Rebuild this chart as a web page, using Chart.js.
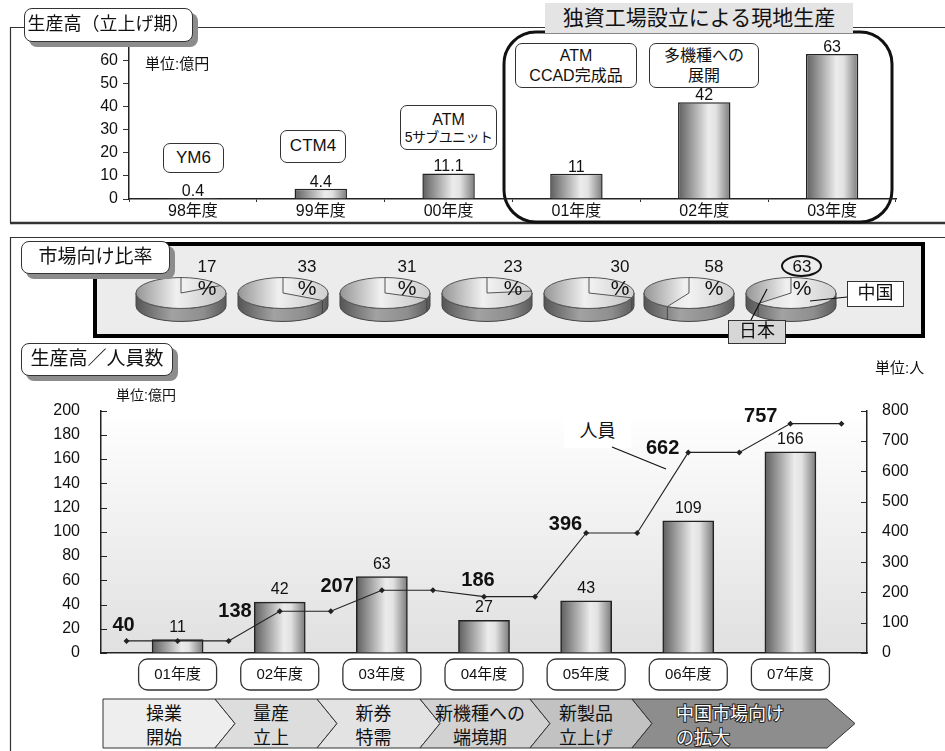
<!DOCTYPE html>
<html>
<head>
<meta charset="utf-8">
<script src="https://cdn.jsdelivr.net/npm/chart.js@4.4.1/dist/chart.umd.min.js"></script>
<style>
body{margin:0;background:#fff;font-family:"Liberation Sans","Noto Sans CJK JP",sans-serif;color:#111;}
#page{position:relative;width:945px;height:751px;overflow:hidden;}
#page svg{position:absolute;}
.box{position:absolute;z-index:1;}
.box canvas{display:block;}
.ov{position:absolute;box-sizing:border-box;z-index:3;text-align:center;white-space:nowrap;}
.tag{background:#fff;border:1.5px solid #333;border-radius:8px;box-shadow:5px 5px 0 #8c8c8c;font-size:19px;}
.note{background:#fff;border:1.5px solid #333;border-radius:7px;display:flex;flex-direction:column;justify-content:center;line-height:1.2;}
.txt{position:absolute;z-index:3;white-space:nowrap;}
</style>
</head>
<body>
<div id="page">
<svg id="bg" width="945" height="751" style="left:0;top:0;z-index:0">
  <path d="M10 27.5 H945 M10.5 27 V223" stroke="#333" stroke-width="1.2" fill="none"/>
  <line x1="10" y1="223" x2="945" y2="223" stroke="#333" stroke-width="2.5"/>
  <rect x="504" y="32" width="388" height="190" rx="32" fill="none" stroke="#111" stroke-width="3"/>
  <path d="M10 237.5 H945 M10.5 237 V751" stroke="#333" stroke-width="1.2" fill="none"/>
  <rect x="95" y="244" width="828" height="92" fill="#ececec" stroke="#000" stroke-width="4"/>
  <g id="chevrons"></g>
</svg>

<div class="box" style="left:0;top:30px;width:945px;height:194px"><canvas id="topChart" width="945" height="194"></canvas></div>
<div class="box" style="left:0;top:380px;width:945px;height:320px"><canvas id="mainChart" width="945" height="320"></canvas></div>

<!-- 立上げ期 -->
<div class="ov tag" style="left:24px;top:8px;width:169px;height:34px;line-height:31px;font-size:18px">生産高（立上げ期）</div>
<div class="ov" style="left:545px;top:3px;width:308px;height:30px;background:#e4e4e4;font-size:21px;line-height:30px">独資工場設立による現地生産</div>
<div class="txt" style="left:145px;top:52px;font-size:15px">単位:億円</div>
<div class="ov note" style="left:163px;top:143px;width:61px;height:30px;font-size:17px">YM6</div>
<div class="ov note" style="left:280px;top:130px;width:66px;height:33px;font-size:17px">CTM4</div>
<div class="ov note" style="left:400px;top:105px;width:97px;height:45px;font-size:14px"><span style="font-size:16px">ATM</span><span style="letter-spacing:-0.6px">5サブユニット</span></div>
<div class="ov note" style="left:515px;top:43px;width:122px;height:45px;font-size:16px"><span>ATM</span><span>CCAD完成品</span></div>
<div class="ov note" style="left:649px;top:43px;width:110px;height:45px;font-size:16px"><span>多機種への</span><span>展開</span></div>

<!-- 市場向け比率 -->
<div class="ov tag" style="left:21px;top:241px;width:149px;height:33px;line-height:30px">市場向け比率</div>
<div class="ov" style="left:781px;top:255px;width:41px;height:22px;border:2.5px solid #111;border-radius:50%"></div>
<div class="ov" style="left:847px;top:281px;width:57px;height:26px;background:#fff;border:1.5px solid #333;font-size:18px;line-height:23px">中国</div>
<div class="ov" style="left:728px;top:320px;width:58px;height:24px;background:#d6d6d6;border:1.5px solid #333;font-size:18px;line-height:21px">日本</div>

<!-- 生産高／人員数 -->
<div class="ov tag" style="left:21px;top:343px;width:152px;height:33px;line-height:30px">生産高／人員数</div>
<div class="txt" style="left:875px;top:356px;font-size:15px">単位:人</div>
<div class="txt" style="left:116px;top:384px;font-size:14px">単位:億円</div>
<div class="ov" style="left:564px;top:415px;width:67px;height:33px;background:#fff;font-size:18px;line-height:33px">人員</div>

<svg width="945" height="751" style="left:0;top:0;z-index:4;pointer-events:none">
  <line x1="810" y1="301" x2="847" y2="297" stroke="#111" stroke-width="1.2"/>
  <line x1="751" y1="320" x2="767" y2="289" stroke="#111" stroke-width="1.2"/>
  <line x1="612" y1="447" x2="666" y2="469" stroke="#111" stroke-width="1.2"/>
</svg>
</div>

<script>
const FONT = '"Liberation Sans","Noto Sans CJK JP",sans-serif';

// 生産高（立上げ期） 億円
const launchYears = ['98年度', '99年度', '00年度', '01年度', '02年度', '03年度'];
const launchOutput = [0.4, 4.4, 11.1, 11, 42, 63];

// 市場向け比率 %
const chinaShare = [17, 33, 31, 23, 30, 58, 63];
const japanShare = [83, 67, 69, 77, 70, 42, 37];

// 生産高（億円）／人員数（人）
const years = ['01年度', '02年度', '03年度', '04年度', '05年度', '06年度', '07年度'];
const output = [11, 42, 63, 27, 43, 109, 166];
const staff = [40, 138, 207, 186, 396, 662, 757];
const staffLine = [40, 40, 40, 138, 138, 207, 207, 186, 186, 396, 396, 662, 662, 757, 757];

const phases = [['操業', '開始'], ['量産', '立上'], ['新券', '特需'], ['新機種への', '端境期'], ['新製品', '立上げ'], ['中国市場向け', 'の拡大']];

// ---------- helpers
function rrect(ctx, x, y, w, h, r) {
  ctx.beginPath();
  ctx.moveTo(x + r, y);
  ctx.arcTo(x + w, y, x + w, y + h, r);
  ctx.arcTo(x + w, y + h, x, y + h, r);
  ctx.arcTo(x, y + h, x, y, r);
  ctx.arcTo(x, y, x + w, y, r);
  ctx.closePath();
}
function barFill(c, pct) {
  const chart = c.chart, xs = chart.scales.x;
  if (!xs || c.dataIndex == null || !chart.chartArea) return '#bbb';
  const cx = xs.getPixelForValue(c.dataIndex);
  const w = xs.width / chart.data.labels.length * pct;
  const g = chart.ctx.createLinearGradient(cx - w / 2, 0, cx + w / 2, 0);
  g.addColorStop(0, '#5e5e5e');
  g.addColorStop(0.58, '#ececec');
  g.addColorStop(0.72, '#e2e2e2');
  g.addColorStop(1, '#7a7a7a');
  return g;
}
const barValues = {
  id: 'barValues',
  afterDatasetsDraw(chart, args, opts) {
    const ctx = chart.ctx, meta = chart.getDatasetMeta(0);
    const data = chart.data.datasets[0].data;
    ctx.save();
    ctx.font = opts.font; ctx.fillStyle = '#111';
    ctx.textAlign = 'center'; ctx.textBaseline = 'alphabetic';
    meta.data.forEach((bar, i) => {
      if (data[i] == null) return;
      ctx.fillText(String(data[i]), bar.x, bar.y - opts.gap);
    });
    ctx.restore();
  }
};

// ---------- top chart
new Chart(document.getElementById('topChart'), {
  type: 'bar',
  data: {
    labels: launchYears,
    datasets: [{
      data: launchOutput,
      backgroundColor: c => barFill(c, 0.41),
      borderColor: '#222', borderWidth: 1.5,
      barPercentage: 0.41, categoryPercentage: 1
    }]
  },
  options: {
    responsive: false, animation: false, events: [],
    layout: { padding: { top: 17, right: 49, left: 0, bottom: 0 } },
    plugins: {
      legend: { display: false }, tooltip: { enabled: false },
      barValues: { font: '16px ' + FONT, gap: 2 }
    },
    scales: {
      x: {
        grid: { drawOnChartArea: false, drawTicks: true, tickLength: 3, color: '#333' },
        border: { color: '#222', width: 1.5 },
        ticks: { color: '#111', font: { size: 16, family: FONT }, padding: 0, maxRotation: 0 },
        afterFit: s => { s.height = 25; }
      },
      y: {
        min: 0, max: 66,
        ticks: { stepSize: 10, includeBounds: false, color: '#111', font: { size: 16, family: FONT }, padding: 5 },
        grid: { drawOnChartArea: false, tickLength: 6, color: '#333' },
        border: { color: '#222', width: 1.5 },
        afterFit: s => { s.width = 129; }
      }
    }
  },
  plugins: [barValues]
});

// ---------- 3D pies
const SQUASH = 0.344, DEPTH = 13;
const pieCenters = [180.5, 282.5, 384.5, 486.5, 588.5, 689, 791];
const pieLabelDx = [26, 24, 22, 26, 31, 25, 11];

const pie3d = {
  id: 'pie3d',
  beforeDatasetsDraw(chart) {
    const a = chart.getDatasetMeta(0).data[0];
    const x = a.x, y = a.y, r = a.outerRadius, d = DEPTH / SQUASH;
    const ctx = chart.ctx;
    const ang = chart.data.datasets[0].data[0] / 100 * Math.PI * 2;
    const ex = x + r * Math.sin(ang), ey = y - r * Math.cos(ang);

    ctx.save();
    ctx.translate(x, y); ctx.scale(1, SQUASH); ctx.translate(-x, -y);
    const g = ctx.createLinearGradient(x - r, 0, x + r, 0);
    g.addColorStop(0, '#555555'); g.addColorStop(0.4, '#a2a2a2');
    g.addColorStop(0.75, '#8e8e8e'); g.addColorStop(1, '#5a5a5a');
    ctx.beginPath();
    ctx.moveTo(x + r, y);
    ctx.lineTo(x + r, y + d);
    ctx.arc(x, y + d, r, 0, Math.PI, false);
    ctx.lineTo(x - r, y);
    ctx.arc(x, y, r, Math.PI, 0, true);
    ctx.closePath();
    ctx.fillStyle = g; ctx.fill();
    if (Math.cos(ang) < 0) { ctx.moveTo(ex, ey); ctx.lineTo(ex, ey + d); }
    ctx.restore();
    ctx.save(); ctx.strokeStyle = '#444'; ctx.lineWidth = 1; ctx.stroke(); ctx.restore();

    // squash the pie itself; undone in afterDatasetsDraw
    ctx.save();
    ctx.translate(x, y); ctx.scale(1, SQUASH); ctx.translate(-x, -y);
  },
  afterDatasetsDraw(chart, args, opts) {
    const ctx = chart.ctx;
    ctx.restore();
    const a = chart.getDatasetMeta(0).data[0];
    const x = a.x, y = a.y, r = a.outerRadius;
    const v = chart.data.datasets[0].data[0];
    const ang = v / 100 * Math.PI * 2;
    ctx.save();
    ctx.translate(x, y); ctx.scale(1, SQUASH); ctx.translate(-x, -y);
    ctx.beginPath();
    ctx.ellipse(x, y, r, r, 0, 0, Math.PI * 2);
    ctx.moveTo(x, y); ctx.lineTo(x, y - r);
    ctx.moveTo(x, y); ctx.lineTo(x + r * Math.sin(ang), y - r * Math.cos(ang));
    ctx.restore();
    ctx.save();
    ctx.strokeStyle = '#555'; ctx.lineWidth = 1; ctx.stroke();
    ctx.fillStyle = '#111'; ctx.textAlign = 'center'; ctx.textBaseline = 'middle';
    ctx.font = '17px ' + FONT;
    ctx.fillText(String(v), x + opts.dx, y - 26);
    ctx.font = '21px ' + FONT;
    ctx.fillText('%', x + opts.dx, y - 4);
    ctx.restore();
  }
};
const chinaStops = [[0, '#d6d6d6'], [0.5, '#f2f2f2'], [1, '#cfcfcf']];
const japanStops = [[0, '#959595'], [0.45, '#f0f0f0'], [1, '#c2c2c2']];
function pieFill(c) {
  const a = c.chart.chartArea;
  if (!a || c.dataIndex == null) return '#ddd';
  const g = c.chart.ctx.createLinearGradient(a.left, 0, a.right, 0);
  (c.dataIndex === 0 ? chinaStops : japanStops).forEach(s => g.addColorStop(s[0], s[1]));
  return g;
}
const page = document.getElementById('page');
chinaShare.forEach((v, i) => {
  const box = document.createElement('div');
  box.className = 'box';
  box.style.left = (pieCenters[i] - 50) + 'px';
  box.style.top = '243px';
  box.style.width = '100px'; box.style.height = '100px';
  const cv = document.createElement('canvas');
  cv.width = 100; cv.height = 100;
  box.appendChild(cv);
  page.appendChild(box);
  new Chart(cv, {
    type: 'pie',
    data: {
      labels: ['中国', '日本'],
      datasets: [{ data: [v, japanShare[i]], backgroundColor: pieFill, borderWidth: 0 }]
    },
    options: {
      responsive: false, animation: false, events: [],
      layout: { padding: 5 },
      plugins: { legend: { display: false }, tooltip: { enabled: false }, pie3d: { dx: pieLabelDx[i] } }
    },
    plugins: [pie3d]
  });
});

// ---------- main chart (生産高／人員数)
const slotLabels = staffLine.map((_, i) => i % 2 ? years[(i - 1) / 2] : '');
const slotOutput = staffLine.map((_, i) => i % 2 ? output[(i - 1) / 2] : null);

const mainDecor = {
  id: 'mainDecor',
  beforeDraw(chart) {
    const { ctx, chartArea: a } = chart;
    const g = ctx.createLinearGradient(0, a.top, 0, a.bottom);
    g.addColorStop(0, '#ffffff'); g.addColorStop(1, '#e0e0e0');
    ctx.save(); ctx.fillStyle = g; ctx.fillRect(a.left, a.top, a.width, a.height); ctx.restore();
  },
  afterDraw(chart, args, opts) {
    const { ctx, chartArea: a, scales } = chart;
    ctx.save();
    // inner tick marks
    ctx.strokeStyle = '#222'; ctx.lineWidth = 1.2;
    ctx.beginPath();
    scales.y.ticks.forEach(t => { const py = Math.round(scales.y.getPixelForValue(t.value)) + 0.5; ctx.moveTo(a.left, py); ctx.lineTo(a.left + 6, py); });
    scales.y1.ticks.forEach(t => { const py = Math.round(scales.y1.getPixelForValue(t.value)) + 0.5; ctx.moveTo(a.right - 6, py); ctx.lineTo(a.right, py); });
    ctx.stroke();
    // staff labels
    ctx.font = 'bold 20px ' + FONT; ctx.fillStyle = '#111'; ctx.textBaseline = 'middle';
    const pts = chart.getDatasetMeta(1).data;
    staff.forEach((v, k) => {
      const p = pts[opts.anchors[k]], o = opts.offsets[k];
      ctx.textAlign = o[2];
      ctx.fillText(String(v), p.x + o[0], p.y + o[1]);
    });
    // year boxes under the axis
    ctx.font = '15px ' + FONT; ctx.textAlign = 'center';
    chart.data.labels.forEach((lab, i) => {
      if (!lab) return;
      const x = scales.x.getPixelForValue(i);
      rrect(ctx, x - 39, a.bottom + 6, 78, 31, 9);
      ctx.fillStyle = '#fff'; ctx.fill();
      ctx.strokeStyle = '#333'; ctx.lineWidth = 1.3; ctx.stroke();
      ctx.fillStyle = '#111';
      ctx.fillText(lab, x, a.bottom + 22);
    });
    ctx.restore();
  }
};

new Chart(document.getElementById('mainChart'), {
  data: {
    labels: slotLabels,
    datasets: [
      {
        type: 'bar', data: slotOutput, yAxisID: 'y', order: 1,
        backgroundColor: c => barFill(c, 1),
        borderColor: '#222', borderWidth: 1.5,
        barPercentage: 1, categoryPercentage: 1
      },
      {
        type: 'line', data: staffLine, yAxisID: 'y1', order: 0,
        borderColor: '#222', borderWidth: 1.1,
        pointStyle: 'rectRot', pointRadius: 3, pointBackgroundColor: '#222', pointBorderWidth: 0
      }
    ]
  },
  options: {
    responsive: false, animation: false, events: [],
    layout: { padding: { top: 6, left: 0, right: 0, bottom: 0 } },
    plugins: {
      legend: { display: false }, tooltip: { enabled: false },
      barValues: { font: '16px ' + FONT, gap: 8 },
      mainDecor: {
        anchors: [0, 3, 5, 7, 9, 11, 13],
        offsets: [[-3, -15, 'center'], [-28, 0, 'right'], [-28, -4, 'right'], [-6, -16, 'center'],
                  [-4, -9, 'right'], [-9, -4, 'right'], [-13, -7, 'right']]
      }
    },
    scales: {
      x: {
        grid: { display: false },
        border: { color: '#222', width: 1.5 },
        ticks: { display: false },
        afterFit: s => { s.height = 47; }
      },
      y: {
        position: 'left', min: 0, max: 200,
        ticks: { stepSize: 20, color: '#111', font: { size: 16, family: FONT }, padding: 21 },
        grid: { drawOnChartArea: false, drawTicks: false },
        border: { color: '#222', width: 1.5 },
        afterFit: s => { s.width = 101; }
      },
      y1: {
        position: 'right', min: 0, max: 800,
        ticks: { stepSize: 100, color: '#111', font: { size: 16, family: FONT }, padding: 15 },
        grid: { drawOnChartArea: false, drawTicks: false },
        border: { color: '#222', width: 1.5 },
        afterFit: s => { s.width = 78; }
      }
    }
  },
  plugins: [barValues, mainDecor]
});

// ---------- phase chevrons
const chevEdges = [103, 215, 317, 420, 530, 632, 827];
const chevFills = ['#eeeeee', '#dddddd', '#e3e3e3', '#d2d2d2', '#c2c2c2', '#8d8d8d'];
const NS = 'http://www.w3.org/2000/svg';
const chevG = document.getElementById('chevrons');
const top0 = 699, bot0 = 748, mid0 = (top0 + bot0) / 2;
phases.forEach((lines, i) => {
  const L = chevEdges[i], R = chevEdges[i + 1];
  const last = i === phases.length - 1;
  const tip = last ? 28 : 20;
  const pts = [[L, top0], [R, top0], [R + tip, mid0], [R, bot0], [L, bot0]];
  if (i > 0) pts.push([L + 20, mid0]);
  const poly = document.createElementNS(NS, 'polygon');
  poly.setAttribute('points', pts.map(p => p.join(',')).join(' '));
  poly.setAttribute('fill', chevFills[i]);
  poly.setAttribute('stroke', '#333');
  poly.setAttribute('stroke-width', '1');
  chevG.appendChild(poly);
  lines.forEach((t, j) => {
    const tx = document.createElementNS(NS, 'text');
    tx.textContent = t;
    tx.setAttribute('x', last ? L + 44 : (L + R) / 2 + 5);
    tx.setAttribute('y', j ? 736 : 712);
    tx.setAttribute('text-anchor', last ? 'start' : 'middle');
    tx.setAttribute('dominant-baseline', 'central');
    tx.setAttribute('font-size', '18');
    tx.setAttribute('font-family', '"Noto Sans CJK JP",sans-serif');
    if (last) {
      tx.setAttribute('fill', '#fff');
      tx.setAttribute('stroke', '#222');
      tx.setAttribute('stroke-width', '2');
      tx.setAttribute('paint-order', 'stroke');
    } else {
      tx.setAttribute('fill', '#111');
    }
    chevG.appendChild(tx);
  });
});
</script>
</body>
</html>
